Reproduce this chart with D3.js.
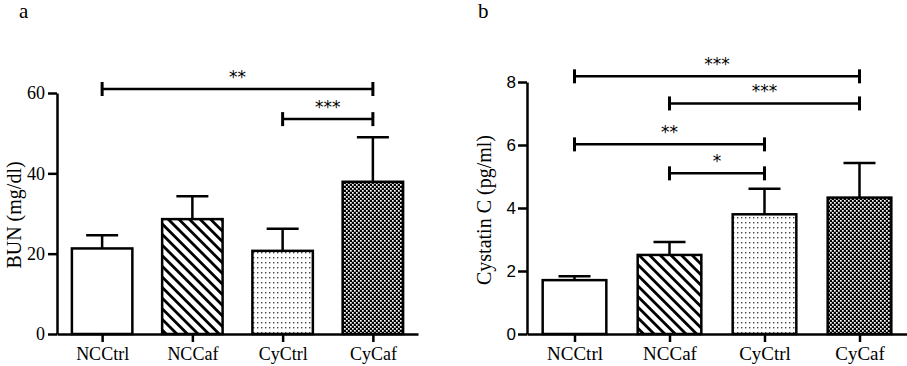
<!DOCTYPE html>
<html>
<head>
<meta charset="utf-8">
<script src="https://cdn.jsdelivr.net/npm/d3@7"></script>
<style>
  body { margin: 0; background: #fff; }
  svg { display: block; }
</style>
</head>
<body>
<div id="chart"></div>
<script>
// groups and values
const categories = ["NCCtrl", "NCCaf", "CyCtrl", "CyCaf"];

const bunMean = [21.3, 28.6, 20.7, 37.9];
const bunErr  = [3.3, 5.7, 5.5, 11.1];
const bunTicks = [0, 20, 40, 60];
const bunBrackets = [
  {from: "NCCtrl", to: "CyCaf", level: 61.0, label: "**"},
  {from: "CyCtrl", to: "CyCaf", level: 53.5, label: "***"}
];

const cysMean = [1.71, 2.51, 3.80, 4.33];
const cysErr  = [0.12, 0.41, 0.81, 1.10];
const cysTicks = [0, 2, 4, 6, 8];
const cysBrackets = [
  {from: "NCCtrl", to: "CyCaf", level: 8.18, label: "***"},
  {from: "NCCaf", to: "CyCaf", level: 7.32, label: "***"},
  {from: "NCCtrl", to: "CyCtrl", level: 6.02, label: "**"},
  {from: "NCCaf", to: "CyCtrl", level: 5.10, label: "*"}
];

const W = 907, H = 366;
const serif = "'Liberation Serif', 'Times New Roman', serif";
const sans = "'Liberation Sans', Arial, sans-serif";

const svg = d3.select("#chart").append("svg")
  .attr("width", W)
  .attr("height", H);

svg.append("rect").attr("width", W).attr("height", H).attr("fill", "#fff");

// fill patterns
const defs = svg.append("defs");

const hatch = defs.append("pattern")
  .attr("id", "hatch")
  .attr("patternUnits", "userSpaceOnUse")
  .attr("width", 7.5).attr("height", 10)
  .attr("patternTransform", "rotate(-45)");
hatch.append("rect").attr("width", 7.5).attr("height", 10).attr("fill", "#fff");
hatch.append("rect").attr("width", 2.8).attr("height", 10).attr("fill", "#000");

const dots = defs.append("pattern")
  .attr("id", "dots")
  .attr("patternUnits", "userSpaceOnUse")
  .attr("width", 4).attr("height", 5);
dots.append("rect").attr("width", 4).attr("height", 5).attr("fill", "#fff");
dots.append("rect").attr("x", 1).attr("y", 2).attr("width", 1.4).attr("height", 1.4).attr("fill", "#444");

const checker = defs.append("pattern")
  .attr("id", "checker")
  .attr("patternUnits", "userSpaceOnUse")
  .attr("width", 4).attr("height", 4);
checker.append("rect").attr("width", 4).attr("height", 4).attr("fill", "#000");
checker.append("rect").attr("width", 1.7).attr("height", 1.7).attr("fill", "#fff");
checker.append("rect").attr("x", 2).attr("y", 2).attr("width", 1.7).attr("height", 1.7).attr("fill", "#fff");

const fills = ["#fff", "url(#hatch)", "url(#dots)", "url(#checker)"];

function panel(opt) {
  const g = svg.append("g");

  const x = d3.scalePoint()
    .domain(categories)
    .range(opt.xRange)
    .padding(0.5);
  const step = x.step();
  const barW = step * 0.67;

  const y = d3.scaleLinear()
    .domain(opt.yDomain)
    .range(opt.yRange);

  const data = categories.map((c, i) => ({cat: c, mean: opt.mean[i], err: opt.err[i], fill: fills[i]}));

  // error bars (upper only)
  const eb = g.selectAll(".err").data(data).join("g").attr("class", "err");
  eb.append("line")
    .attr("x1", d => x(d.cat)).attr("x2", d => x(d.cat))
    .attr("y1", d => y(d.mean)).attr("y2", d => y(d.mean + d.err))
    .attr("stroke", "#000").attr("stroke-width", 2.5);
  eb.append("line")
    .attr("x1", d => x(d.cat) - 16).attr("x2", d => x(d.cat) + 16)
    .attr("y1", d => y(d.mean + d.err)).attr("y2", d => y(d.mean + d.err))
    .attr("stroke", "#000").attr("stroke-width", 2.5);

  // bars
  g.selectAll(".bar").data(data).join("rect")
    .attr("class", "bar")
    .attr("x", d => x(d.cat) - barW / 2)
    .attr("width", barW)
    .attr("y", d => y(d.mean))
    .attr("height", d => y(0) - y(d.mean))
    .attr("fill", d => d.fill)
    .attr("stroke", "#000")
    .attr("stroke-width", 2.5);

  // y axis
  const yAxis = g.append("g")
    .attr("transform", `translate(${opt.xRange[0]},0)`)
    .call(d3.axisLeft(y).tickValues(opt.ticks).tickSize(9).tickSizeOuter(0).tickPadding(opt.tickPad));
  yAxis.selectAll("text")
    .attr("font-family", opt.tickFont)
    .attr("font-size", opt.tickSize)
    .attr("fill", "#000");

  // x axis
  const xAxis = g.append("g")
    .attr("transform", `translate(0,${y(0)})`)
    .call(d3.axisBottom(x).tickSize(8).tickSizeOuter(0).tickPadding(5));
  xAxis.selectAll("text")
    .attr("font-family", serif)
    .attr("font-size", opt.catSize)
    .attr("fill", "#000");

  g.selectAll(".domain, .tick line")
    .attr("stroke", "#000")
    .attr("stroke-width", 2.5);

  // significance brackets
  const br = g.selectAll(".bracket").data(opt.brackets).join("g").attr("class", "bracket");
  br.append("line")
    .attr("x1", d => x(d.from)).attr("x2", d => x(d.to))
    .attr("y1", d => y(d.level)).attr("y2", d => y(d.level))
    .attr("stroke", "#000").attr("stroke-width", 2.5);
  br.selectAll(".end").data(d => [[d.from, d.level], [d.to, d.level]]).join("line")
    .attr("class", "end")
    .attr("x1", d => x(d[0])).attr("x2", d => x(d[0]))
    .attr("y1", d => y(d[1]) - 7).attr("y2", d => y(d[1]) + 7)
    .attr("stroke", "#000").attr("stroke-width", 3);
  br.append("text")
    .attr("x", d => (x(d.from) + x(d.to)) / 2)
    .attr("y", d => y(d.level) - 6)
    .attr("text-anchor", "middle")
    .attr("font-family", "'DejaVu Sans', sans-serif")
    .attr("font-size", 17)
    .text(d => d.label);

  // y axis title
  g.append("text")
    .attr("transform", `translate(${opt.titleX},${opt.titleY}) rotate(-90)`)
    .attr("text-anchor", "middle")
    .attr("font-family", serif)
    .attr("font-size", opt.titleSize)
    .text(opt.title);

  // panel letter
  g.append("text")
    .attr("x", opt.letterX)
    .attr("y", 18)
    .attr("font-family", serif)
    .attr("font-size", 21)
    .text(opt.letter);
}

panel({
  xRange: [57, 418],
  yDomain: [0, 60], yRange: [334, 93],
  mean: bunMean, err: bunErr, ticks: bunTicks, brackets: bunBrackets,
  tickFont: serif, tickSize: 18, tickPad: 3, catSize: 18,
  title: "BUN (mg/dl)", titleX: 21, titleY: 215, titleSize: 20,
  letter: "a", letterX: 19
});

panel({
  xRange: [527, 907],
  yDomain: [0, 8], yRange: [334, 82],
  mean: cysMean, err: cysErr, ticks: cysTicks, brackets: cysBrackets,
  tickFont: sans, tickSize: 17, tickPad: 2, catSize: 19,
  title: "Cystatin C (pg/ml)", titleX: 491, titleY: 210, titleSize: 20,
  letter: "b", letterX: 478
});
</script>
</body>
</html>
